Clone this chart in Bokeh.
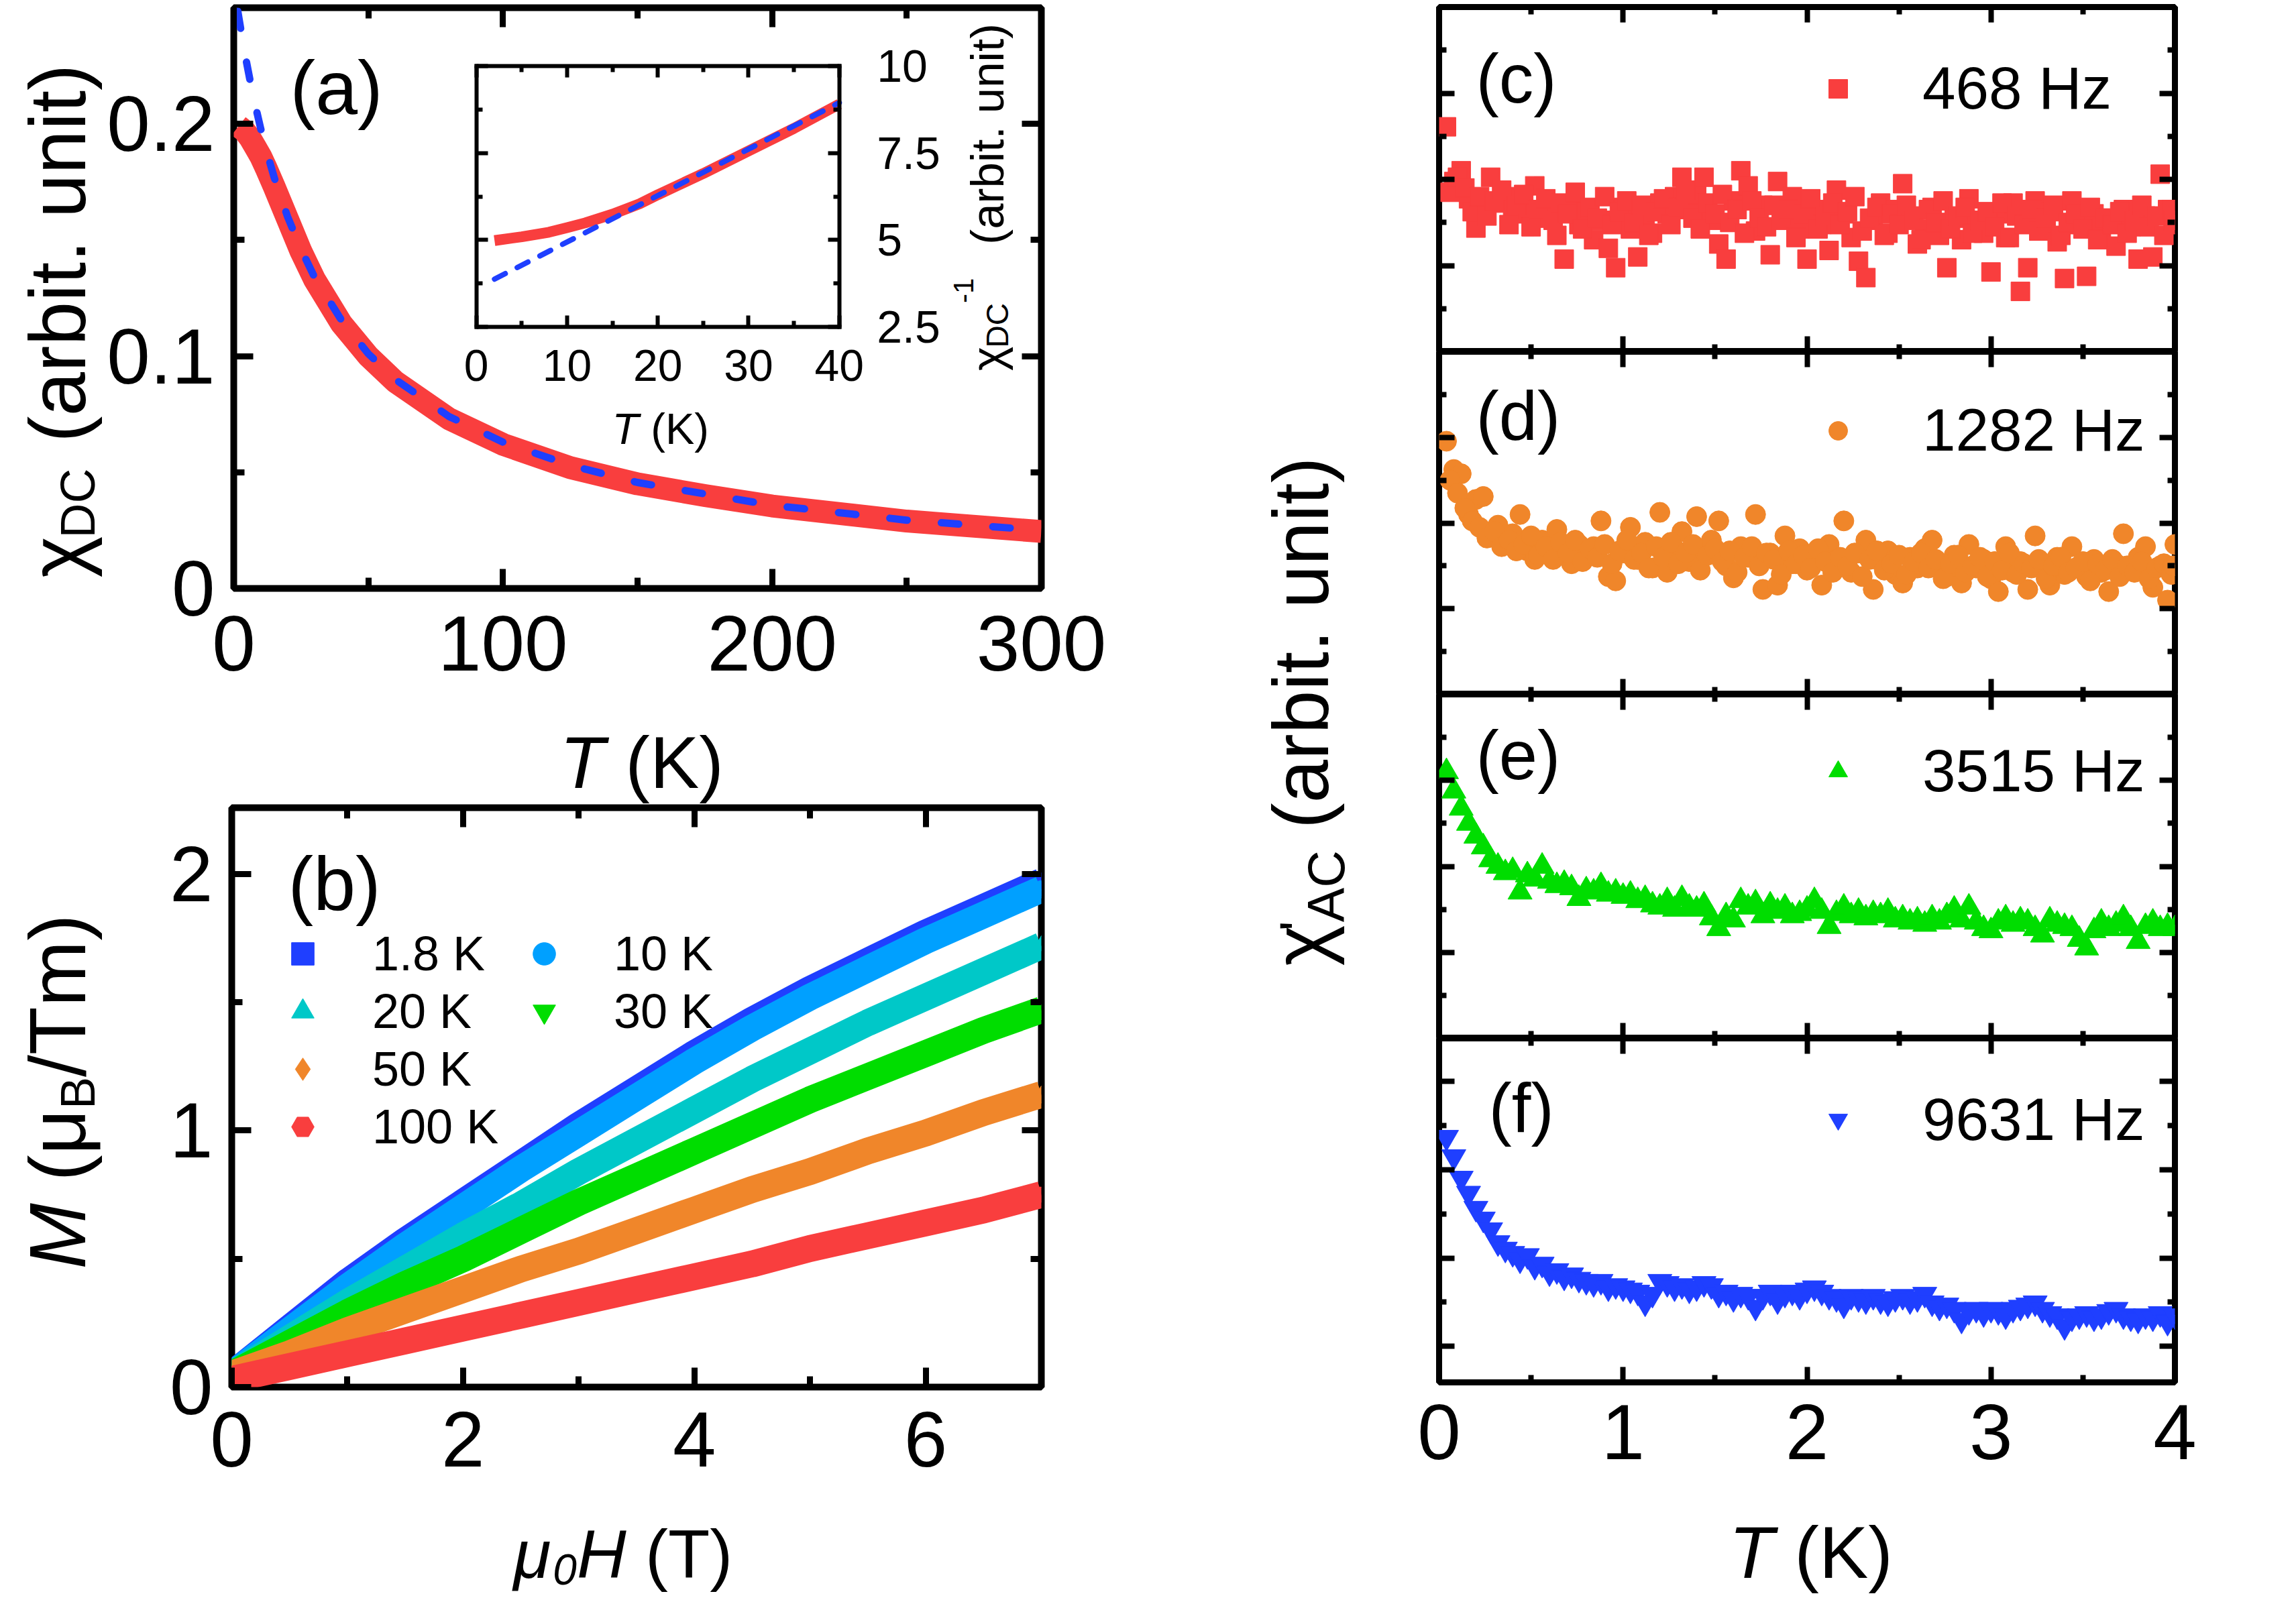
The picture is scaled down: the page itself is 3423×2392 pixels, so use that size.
import math
from bokeh.plotting import figure
from bokeh.models import Range1d, LinearAxis, FixedTicker, Label, Legend, LegendItem
from bokeh.layouts import row, column
from bokeh.embed import file_html
from bokeh.resources import INLINE

FONT = "Liberation Sans"
RED = "#f93e3e"
BLUE = "#1f3fff"
LBLUE = "#00a0ff"
CYAN = "#00c8c8"
GREEN = "#00dd00"
ORANGE = "#f0862a"

# ---------------- data: panel (a) ----------------
T_DC = [1.8, 4, 6, 8, 10, 12, 15, 20, 25, 30, 40, 50, 60, 80, 100, 125, 150, 175, 200, 250, 300]
CHI_DC = [0.199, 0.197, 0.194, 0.190, 0.186, 0.181, 0.173, 0.159, 0.145, 0.133, 0.114, 0.100,
          0.089, 0.073, 0.062, 0.052, 0.045, 0.040, 0.0355, 0.029, 0.0245]
T_CW = [1.5, 2, 3, 4, 5, 6, 8, 10, 12, 15, 20, 25, 30, 40, 50, 60, 80, 100, 125, 150, 200, 250, 300]
CHI_CW = [0.2485, 0.245, 0.238, 0.231, 0.225, 0.219, 0.208, 0.198, 0.189, 0.177, 0.160, 0.146,
          0.134, 0.1155, 0.101, 0.090, 0.074, 0.063, 0.053, 0.0456, 0.0358, 0.0294, 0.0250]
# inset
T_INV = [2, 5, 8, 10, 12, 15, 18, 20, 25, 30, 35, 40]
INV_CHI = [4.98, 5.09, 5.22, 5.35, 5.49, 5.74, 6.04, 6.30, 6.91, 7.56, 8.21, 8.91]
T_FIT = [2, 40]
INV_FIT = [3.87, 8.95]

# ---------------- data: panel (b) ----------------
H_VALS = [0, 0.5, 1, 1.5, 2, 2.5, 3, 3.5, 4, 4.5, 5, 5.5, 6, 6.5, 7]
M_1P8 = [0.05, 0.23, 0.41, 0.57, 0.72, 0.87, 1.02, 1.16, 1.30, 1.43, 1.55, 1.66, 1.77, 1.87, 1.97]
M_10 = [0.05, 0.22, 0.39, 0.55, 0.70, 0.85, 0.99, 1.13, 1.27, 1.40, 1.52, 1.63, 1.74, 1.84, 1.94]
M_20 = [0.05, 0.19, 0.33, 0.46, 0.59, 0.71, 0.84, 0.96, 1.08, 1.20, 1.31, 1.42, 1.52, 1.62, 1.72]
M_30 = [0.05, 0.17, 0.29, 0.40, 0.50, 0.61, 0.72, 0.82, 0.92, 1.02, 1.12, 1.21, 1.30, 1.39, 1.47]
M_50 = [0.05, 0.13, 0.22, 0.30, 0.38, 0.46, 0.53, 0.61, 0.69, 0.77, 0.84, 0.92, 0.99, 1.07, 1.14]
M_100 = [0.03, 0.08, 0.13, 0.18, 0.23, 0.28, 0.33, 0.38, 0.43, 0.48, 0.54, 0.59, 0.64, 0.69, 0.75]
B_LABELS = ["1.8 K", "10 K", "20 K", "30 K", "50 K", "100 K"]

# ---------------- data: panels (c)-(f) ----------------
T_AC = [0.04, 0.08, 0.12, 0.16, 0.20, 0.24, 0.28, 0.32, 0.36, 0.40, 0.44, 0.48, 0.52, 0.56, 0.60,
        0.64, 0.68, 0.72, 0.76, 0.80, 0.84, 0.88, 0.92, 0.96, 1.00, 1.04, 1.08, 1.12, 1.16, 1.20,
        1.24, 1.28, 1.32, 1.36, 1.40, 1.44, 1.48, 1.52, 1.56, 1.60, 1.64, 1.68, 1.72, 1.76, 1.80,
        1.84, 1.88, 1.92, 1.96, 2.00, 2.04, 2.08, 2.12, 2.16, 2.20, 2.24, 2.28, 2.32, 2.36, 2.40,
        2.44, 2.48, 2.52, 2.56, 2.60, 2.64, 2.68, 2.72, 2.76, 2.80, 2.84, 2.88, 2.92, 2.96, 3.00,
        3.04, 3.08, 3.12, 3.16, 3.20, 3.24, 3.28, 3.32, 3.36, 3.40, 3.44, 3.48, 3.52, 3.56, 3.60,
        3.64, 3.68, 3.72, 3.76, 3.80, 3.84, 3.88, 3.92, 3.96, 4.00]
# intermediate temperatures of the same sweeps (panels c and d)
T_AC_MID = [0.06, 0.10, 0.14, 0.18, 0.22, 0.26, 0.30, 0.34, 0.38, 0.42, 0.46, 0.50, 0.54, 0.58,
            0.62, 0.66, 0.70, 0.74, 0.78, 0.82, 0.86, 0.90, 0.94, 0.98, 1.02, 1.06, 1.10, 1.14,
            1.18, 1.22, 1.26, 1.30, 1.34, 1.38, 1.42, 1.46, 1.50, 1.54, 1.58, 1.62, 1.66, 1.70,
            1.74, 1.78, 1.82, 1.86, 1.90, 1.94, 1.98, 2.02, 2.06, 2.10, 2.14, 2.18, 2.22, 2.26,
            2.30, 2.34, 2.38, 2.42, 2.46, 2.50, 2.54, 2.58, 2.62, 2.66, 2.70, 2.74, 2.78, 2.82,
            2.86, 2.90, 2.94, 2.98, 3.02, 3.06, 3.10, 3.14, 3.18, 3.22, 3.26, 3.30, 3.34, 3.38,
            3.42, 3.46, 3.50, 3.54, 3.58, 3.62, 3.66, 3.70, 3.74, 3.78, 3.82, 3.86, 3.90, 3.94,
            3.98, 3.99]
CHI_468 = [5.22, 3.95, 4.20, 3.55, 2.87, 3.40, 4.05, 3.45, 3.60, 3.30, 3.55, 3.20, 3.85, 3.10, 3.35,
           2.70, 2.15, 3.40, 2.95, 3.25, 2.60, 3.05, 2.40, 1.95, 3.35, 2.85, 2.20, 3.10, 2.75, 3.45,
           3.20, 3.60, 4.05, 3.30, 3.65, 4.05, 3.05, 2.50, 2.15, 3.50, 4.20, 3.85, 2.80, 3.40, 2.25,
           3.95, 3.15, 3.60, 2.85, 2.15, 3.30, 2.95, 2.35, 3.75, 3.20, 2.65, 2.10, 1.72, 3.05, 3.45,
           2.75, 3.30, 3.90, 3.15, 2.50, 2.85, 3.35, 2.70, 1.95, 3.10, 2.60, 3.55, 3.00, 2.75, 1.85,
           3.20, 2.65, 3.45, 1.40, 1.95, 3.50, 2.90, 3.25, 2.55, 1.70, 3.50, 2.95, 1.75, 3.20, 2.80,
           3.10, 2.45, 3.30, 2.90, 2.15, 3.15, 2.20, 4.12, 3.30, 2.95]
CHI_468_MID = [3.70, 4.05, 3.80, 3.25, 3.60, 3.15, 3.50, 3.75, 2.95, 3.40, 3.65, 2.90, 3.30, 3.55,
               3.05, 3.45, 3.20, 3.70, 2.85, 3.35, 3.10, 3.60, 2.95, 3.25, 3.50, 3.00, 3.40, 2.70,
               3.25, 3.55, 2.95, 3.35, 3.75, 3.10, 2.85, 3.45, 3.20, 3.65, 3.00, 3.30, 2.75, 3.50,
               3.10, 2.90, 3.40, 3.05, 3.30, 2.65, 3.20, 3.55, 2.85, 3.15, 3.45, 2.95, 3.25, 3.60,
               2.80, 3.10, 3.35, 2.70, 3.20, 2.95, 3.40, 3.05, 2.60, 3.30, 3.00, 3.50, 2.85, 3.15,
               3.35, 2.75, 3.05, 3.25, 2.90, 3.45, 2.65, 3.15, 2.95, 3.30, 2.80, 3.10, 3.40, 2.70,
               3.00, 3.20, 2.85, 3.35, 2.60, 3.10, 2.95, 3.25, 2.75, 3.05, 3.40, 2.90, 3.15, 2.70,
               3.30, 3.05]
CHI_1282 = [5.91, 5.25, 5.15, 4.20, 4.55, 4.62, 3.70, 3.95, 3.55, 3.75, 4.20, 3.35, 3.15, 3.60, 3.40,
            3.85, 3.30, 3.05, 3.50, 3.20, 3.45, 4.05, 2.75, 2.65, 3.30, 3.90, 3.15, 3.55, 2.95, 4.25,
            2.85, 3.40, 3.80, 3.10, 4.15, 3.35, 3.60, 4.05, 3.00, 2.72, 3.45, 3.20, 4.20, 2.45, 3.30,
            2.55, 3.70, 3.05, 3.40, 2.90, 3.25, 2.55, 3.50, 3.15, 4.05, 2.85, 3.30, 3.60, 2.45, 3.10,
            3.35, 2.80, 2.60, 3.20, 2.95, 3.40, 3.60, 3.05, 2.75, 3.25, 2.60, 3.50, 2.95, 3.15, 2.70,
            2.40, 3.45, 2.85, 3.10, 2.45, 3.70, 2.95, 2.55, 3.20, 2.80, 3.45, 3.00, 2.75, 3.15, 2.85,
            2.40, 3.05, 3.75, 2.90, 3.20, 3.45, 2.50, 3.00, 2.20, 3.50]
CHI_1282_MID = [5.00, 4.70, 4.35, 4.05, 3.90, 3.65, 3.80, 3.45, 3.60, 3.35, 3.50, 3.70, 3.25, 3.45,
                3.15, 3.55, 3.30, 3.60, 3.10, 3.40, 3.20, 3.50, 3.05, 3.35, 3.60, 3.15, 3.30, 2.95,
                3.45, 3.20, 3.55, 3.05, 3.30, 3.50, 2.90, 3.25, 3.40, 3.10, 3.35, 2.85, 3.20, 3.45,
                3.00, 3.30, 3.15, 2.80, 3.35, 3.05, 3.25, 2.95, 3.40, 3.10, 2.85, 3.20, 3.00, 3.30,
                2.75, 3.15, 3.35, 2.90, 3.05, 3.25, 2.80, 3.10, 3.30, 2.95, 3.15, 2.70, 3.05, 3.25,
                2.85, 3.00, 3.20, 2.75, 3.10, 2.90, 3.30, 2.80, 3.05, 2.95, 3.15, 2.70, 3.00, 3.20,
                2.85, 2.95, 3.10, 2.65, 3.05, 2.90, 3.15, 2.75, 3.00, 2.85, 3.10, 2.70, 2.95, 3.05,
                2.80, 3.00]
CHI_3515 = [6.20, 5.75, 5.35, 5.00, 4.70, 4.45, 4.15, 4.00, 3.85, 3.90, 3.40, 3.80, 3.70, 4.00, 3.65,
            3.55, 3.60, 3.50, 3.25, 3.45, 3.40, 3.55, 3.35, 3.40, 3.30, 3.35, 3.20, 3.25, 3.10, 3.05,
            3.20, 3.00, 3.25, 3.05, 3.00, 3.10, 2.80, 2.55, 2.85, 2.75, 3.20, 3.05, 3.15, 2.85, 3.10,
            2.95, 3.05, 2.85, 2.90, 3.00, 3.20, 2.95, 2.60, 2.90, 3.05, 2.85, 2.95, 2.80, 2.90, 2.85,
            2.95, 2.75, 2.80, 2.70, 2.75, 2.65, 2.80, 2.70, 2.85, 3.00, 2.75, 3.05, 2.70, 2.55, 2.50,
            2.70, 2.80, 2.65, 2.75, 2.70, 2.55, 2.40, 2.75, 2.65, 2.60, 2.55, 2.30, 2.10, 2.50, 2.70,
            2.55, 2.65, 2.80, 2.55, 2.25, 2.60, 2.70, 2.55, 2.60, 2.55]
CHI_9631 = [5.70, 5.25, 4.75, 4.40, 4.05, 3.80, 3.55, 3.25, 3.10, 3.00, 2.85, 2.95, 2.70, 2.75, 2.55,
            2.60, 2.45, 2.50, 2.40, 2.35, 2.30, 2.35, 2.20, 2.25, 2.20, 2.15, 2.10, 1.85, 2.05, 2.35,
            2.30, 2.20, 2.25, 2.15, 2.20, 2.30, 2.25, 2.05, 2.10, 1.95, 2.05, 2.00, 1.75, 2.00, 2.10,
            1.90, 2.05, 2.10, 2.00, 2.15, 2.20, 2.10, 2.00, 1.95, 1.80, 2.00, 1.95, 1.90, 2.00, 1.90,
            1.85, 1.95, 2.00, 1.90, 1.95, 2.05, 1.85, 1.75, 1.80, 1.70, 1.45, 1.65, 1.70, 1.60, 1.70,
            1.65, 1.55, 1.70, 1.75, 1.80, 1.85, 1.70, 1.60, 1.55, 1.30, 1.50, 1.55, 1.60, 1.50, 1.55,
            1.65, 1.70, 1.55, 1.50, 1.45, 1.55, 1.50, 1.60, 1.40, 1.55]
AC_LABELS = ["468 Hz", "1282 Hz", "3515 Hz", "9631 Hz"]

# ---------------- helpers ----------------
WID = {' ': 278, '(': 333, ')': 333, '.': 278, '/': 278, '-': 333, "'": 191,
       'A': 667, 'B': 667, 'C': 722, 'D': 722, 'H': 722, 'K': 667, 'M': 833, 'T': 611,
       'a': 556, 'b': 556, 'i': 222, 'n': 556, 'r': 333, 't': 278, 'u': 556, 'm': 833, 'z': 500,
       'χ': 500, 'μ': 577}
BASE_FIX = 0.26  # em offset of the rendered baseline


def tw(s, size):
    return sum(WID.get(c, 556) for c in s) / 1000.0 * size


def make_fig(width, height, xr=(0, 1), yr=(0, 1), left=0, right=0, top=0, bottom=0, outline=0):
    p = figure(width=width, height=height, x_range=Range1d(*xr), y_range=Range1d(*yr),
               output_backend="svg", toolbar_location=None, tools="",
               x_axis_location=None, y_axis_location=None,
               min_border_left=left, min_border_right=right,
               min_border_top=top, min_border_bottom=bottom)
    p.grid.grid_line_color = None
    if outline:
        p.outline_line_color = "black"
        p.outline_line_width = outline
    else:
        p.outline_line_color = None
    p.background_fill_color = "white"
    p.border_fill_color = "white"
    return p


def add_axis(p, side, ticks, minor, loc, tick_in, minor_in, lw, labels=False, size=116,
             standoff=20, bounds=None, xr=None, yr=None, line=False, overrides=None):
    kw = {}
    if xr:
        kw["x_range_name"] = xr
    if yr:
        kw["y_range_name"] = yr
    if loc is not None:
        kw["fixed_location"] = loc
    ax = LinearAxis(ticker=FixedTicker(ticks=ticks, minor_ticks=minor), **kw)
    if bounds is not None:
        ax.bounds = bounds
    ax.major_tick_in = tick_in
    ax.major_tick_out = 0
    ax.minor_tick_in = minor_in
    ax.minor_tick_out = 0
    ax.major_tick_line_width = lw
    ax.minor_tick_line_width = lw
    ax.major_tick_line_color = "black"
    ax.minor_tick_line_color = "black"
    if line:
        ax.axis_line_width = lw
        ax.axis_line_color = "black"
        ax.axis_line_cap = "square"
    else:
        ax.axis_line_color = None
    if labels:
        ax.major_label_text_font = FONT
        ax.major_label_text_font_size = f"{size}px"
        ax.major_label_text_color = "black"
        ax.major_label_standoff = standoff
        if overrides:
            ax.major_label_overrides = overrides
    else:
        ax.major_label_text_color = None
    p.add_layout(ax, side)
    return ax


def put(p, x, y, text, size, italic=False, vertical=False):
    if vertical:
        x, ang = x - BASE_FIX * size, math.pi / 2
    else:
        y, ang = y + BASE_FIX * size, 0.0
    p.add_layout(Label(x=x, y=y, x_units="screen", y_units="screen", text=text, angle=ang,
                       text_font=FONT, text_font_size=f"{size}px",
                       text_font_style="italic" if italic else "normal",
                       text_align="left", text_baseline="alphabetic", text_color="black"))


def run(p, x, y, pieces, vertical=False):
    # pieces: (text, size, shift_up, italic, gap_after)
    pos = 0.0
    for text, size, shift, italic, gap in pieces:
        lead = len(text) - len(text.lstrip(" "))
        pos += tw(" " * lead, size)
        text = text.lstrip(" ")
        if vertical:
            put(p, x - shift, y + pos, text, size, italic, True)
        else:
            put(p, x + pos, y + shift, text, size, italic, False)
        pos += tw(text, size) + gap


def legend(p, items, loc, gw, gh, standoff, size, spacing):
    lg = Legend(items=items, location=loc, glyph_width=gw, glyph_height=gh, label_height=gh,
                label_standoff=standoff, label_text_font=FONT, label_text_font_size=f"{size}px",
                label_text_color="black", spacing=spacing, padding=0, margin=0,
                border_line_color=None, background_fill_color=None, background_fill_alpha=0)
    p.add_layout(lg)
    return lg


# ---------------- panel (a) ----------------
FA_W, FA_H = 1207, 866
pa = make_fig(1544, 1057, (0, 300), (0, 0.25), 189, 148, 11, 180, outline=10)
pa.line(T_DC, CHI_DC, line_width=34, color=RED, line_join="round")
pa.line(T_CW, CHI_CW, line_width=11, color=BLUE, line_dash="26 51", line_cap="round")
xt_a, xm_a = [0, 100, 200, 300], [50, 150, 250]
yt_a, ym_a = [0, 0.1, 0.2], [0.05, 0.15]
add_axis(pa, "below", xt_a, xm_a, None, 29, 16, 9, labels=True, standoff=41)
add_axis(pa, "above", xt_a, xm_a, 0.25, 29, 16, 9)
add_axis(pa, "left", yt_a, ym_a, None, 29, 16, 9, labels=True, standoff=28,
         overrides={0: "0", 0.1: "0.1", 0.2: "0.2"})
add_axis(pa, "right", yt_a, ym_a, 300, 29, 16, 9)

# inset: its frame occupies pixels [362.6, 905] x [390.3, 778.7] of the main frame
ix0, ix1, iy0, iy1 = 362.6, 905.0, 390.3, 778.7
kx = (ix1 - ix0) / 40.0
ky = (iy1 - iy0) / 7.5
pa.extra_x_ranges = {"ix": Range1d(0 - ix0 / kx, 40 + (FA_W - ix1) / kx)}
pa.extra_y_ranges = {"iy": Range1d(2.5 - iy0 / ky, 10 + (FA_H - iy1) / ky)}
pa.line(T_INV, INV_CHI, x_range_name="ix", y_range_name="iy", line_width=16, color=RED,
        line_join="round")
pa.line(T_FIT, INV_FIT, x_range_name="ix", y_range_name="iy", line_width=8, color=BLUE,
        line_dash="18 20", line_cap="round")
ixt, ixm = [0, 10, 20, 30, 40], [5, 15, 25, 35]
iyt, iym = [2.5, 5, 7.5, 10], [3.75, 6.25, 8.75]
add_axis(pa, "below", ixt, ixm, 2.5, 17, 9, 6, labels=True, size=66, standoff=35,
         bounds=(0, 40), xr="ix", yr="iy", line=True)
add_axis(pa, "above", ixt, ixm, 10, 17, 9, 6, bounds=(0, 40), xr="ix", yr="iy", line=True)
add_axis(pa, "left", iyt, iym, 0, 17, 9, 6, bounds=(2.5, 10), xr="ix", yr="iy", line=True)
add_axis(pa, "right", iyt, iym, 40, 17, 9, 6, labels=True, size=68, standoff=56,
         bounds=(2.5, 10), xr="ix", yr="iy", line=True,
         overrides={2.5: "2.5", 5: "5", 7.5: "7.5", 10: "10"})

put(pa, 84, 717.5, "(a)", 113)
run(pa, 564, 221.5, [("T", 65, 0, True, 0), (" (K)", 65, 0, False, 0)])
run(pa, 1142, 324.5, [("χ", 69, 0, False, 0), ("DC", 46, -8, False, 0), ("-1", 42, 43, False, 50),
                      ("(arbit. unit)", 69, 0, False, 0)], vertical=True)

# label figure left of (a); its frame is aligned with the frame of (a)
yl_a = make_fig(156, 1057)
run(yl_a, 116, 16, [("χ", 118, 0, False, 0), ("DC", 72, -18, False, 6),
                    (" (arbit. unit)", 118, 0, False, 0)], vertical=True)
xl_a = make_fig(1700, 142)
run(xl_a, 834, 34, [("T", 110, 0, True, 0), (" (K)", 110, 0, False, 0)])

# ---------------- panel (b) ----------------
pb = make_fig(1544, 1045, (0, 7), (0, 2.258), 189, 148, 5, 176, outline=10)
series_b = [(M_1P8, "square", BLUE), (M_10, "circle", LBLUE), (M_20, "triangle", CYAN),
            (M_30, "inverted_triangle", GREEN), (M_50, "diamond", ORANGE), (M_100, "hex", RED)]
rend_b = []
for (vals, mk, col) in series_b:
    r = pb.scatter(H_VALS, vals, marker=mk, size=26, color=col)
    pb.line(H_VALS, vals, line_width=40, color=col, line_join="round")
    rend_b.append(r)
xt_b, xm_b = [0, 2, 4, 6], [1, 3, 5]
yt_b, ym_b = [0, 1, 2], [0.5, 1.5]
add_axis(pb, "below", xt_b, xm_b, None, 29, 16, 9, labels=True, standoff=37)
add_axis(pb, "above", xt_b, xm_b, 2.258, 29, 16, 9)
add_axis(pb, "left", yt_b, ym_b, None, 29, 16, 9, labels=True, standoff=28)
add_axis(pb, "right", yt_b, ym_b, 7, 29, 16, 9)

col1 = [LegendItem(label=B_LABELS[i], renderers=[rend_b[i]]) for i in (0, 2, 4, 5)]
col2 = [LegendItem(label=B_LABELS[i], renderers=[rend_b[i]]) for i in (1, 3)]
legend(pb, col1, (64, 346), 84, 84, 62, 72, 2)
legend(pb, col2, (424, 518), 84, 84, 62, 72, 2)
put(pb, 84, 721, "(b)", 113)

yl_b = make_fig(156, 1045)
run(yl_b, 116, 176, [("M", 118, 0, True, 0), (" (μ", 118, 0, False, 0), ("B", 72, -18, False, 0),
                     ("/Tm)", 118, 0, False, 0)], vertical=True)
xl_b = make_fig(1700, 132)
run(xl_b, 765, 31.5, [("μ", 102, 0, True, 0), ("0", 64, -12, True, 0), ("H", 102, 0, True, 0),
                      (" (T)", 102, 0, False, 0)])

# ---------------- label strip for right column ----------------
pl = make_fig(345, 2376)
run(pl, 270, 936, [("χ", 116, 0, False, -6), ("'", 80, 13, False, -2), ("AC", 77, -27, False, 0),
                   (" (arbit. unit)", 116, 0, False, 0)], vertical=True)

# ---------------- panels (c)-(f) ----------------
xt_r, xm_r = [0, 1, 2, 3, 4], [0.5, 1.5, 2.5, 3.5]
specs = [
    (524, 10, 0, CHI_468, CHI_468_MID, "square", 28, RED, "(c)", 55, 380, 341,
     [2, 4, 6], [1, 3, 5, 7]),
    (511, 0, 0, CHI_1282, CHI_1282_MID, "circle", 30, ORANGE, "(d)", 55, 388, 342,
     [2, 4, 6], [1, 3, 5, 7]),
    (513, 0, 0, CHI_3515, None, "triangle", 36, GREEN, "(e)", 55, 395, 347,
     [2, 4, 6], [1, 3, 5, 7]),
    (685, 0, 172, CHI_9631, None, "inverted_triangle", 36, BLUE, "(f)", 74, 382, 340.5,
     [0.84, 2.89, 4.95, 7.0], [1.87, 3.92, 5.97]),
]
right_figs = []
for k, (h, top, bot, vals, mids, mk, sz, col, lab, lx, ly, lgy, yt, ym) in enumerate(specs):
    p = make_fig(1247, h, (0, 4), (0, 8), 100, 50, top, bot, outline=9)
    r = p.scatter(T_AC, vals, marker=mk, size=sz, color=col)
    if mids is not None:
        p.scatter(T_AC_MID, mids, marker=mk, size=sz, color=col)
    last = (k == len(specs) - 1)
    add_axis(p, "below", xt_r, xm_r, None if last else 0, 23, 11, 8, labels=last, standoff=33)
    add_axis(p, "above", xt_r, xm_r, 8, 23, 11, 8)
    add_axis(p, "left", yt, ym, 0, 23, 11, 8)
    add_axis(p, "right", yt, ym, 4, 23, 11, 8)
    legend(p, [LegendItem(label=AC_LABELS[k], renderers=[r])], (560, lgy), 70, 102, 91, 89, 0)
    put(p, lx, ly, lab, 103)
    right_figs.append(p)
# label figure below (f); its frame is aligned with the frames above (left border 100)
xl_f = make_fig(1247, 143)
run(xl_f, 432, 33.5, [("T", 110, 0, True, 0), (" (K)", 110, 0, False, 0)])

left = column(row(yl_a, pa), xl_a, row(yl_b, pb), xl_b)
layout = row(left, pl, column(*right_figs, xl_f))
open("out.html", "w").write(file_html(layout, INLINE))
